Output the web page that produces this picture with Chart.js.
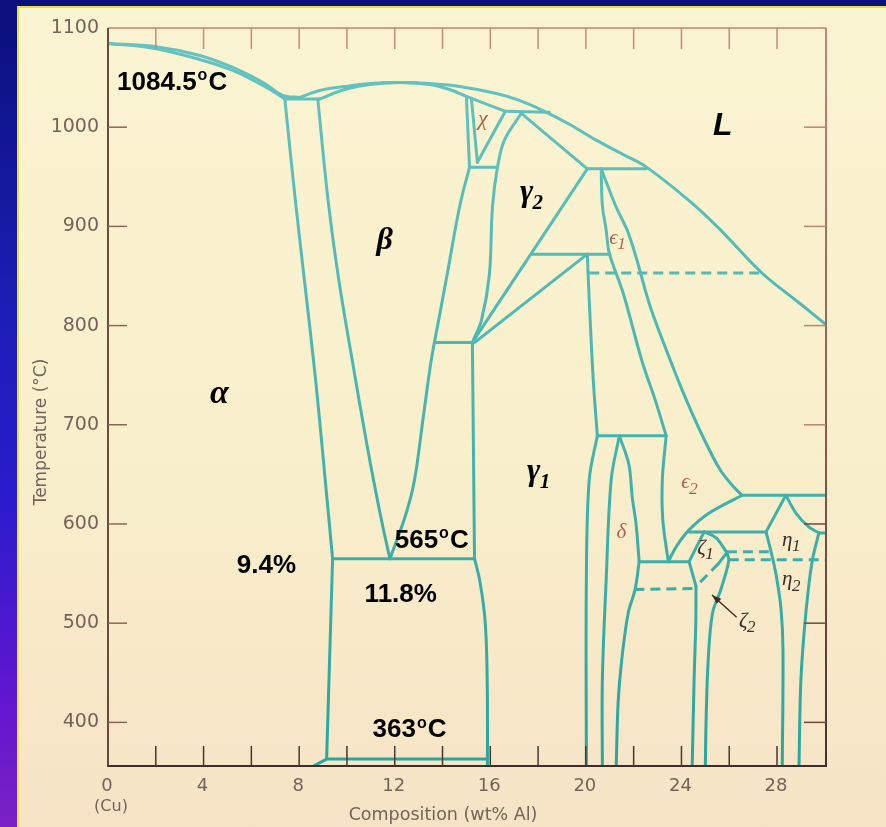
<!DOCTYPE html>
<html>
<head>
<meta charset="utf-8">
<title>Cu-Al phase diagram</title>
<script src="https://cdn.jsdelivr.net/npm/chart.js@4.4.0/dist/chart.umd.min.js"></script>
<style>
  html, body { margin: 0; padding: 0; }
  body {
    width: 886px; height: 827px; overflow: hidden; position: relative;
    background: linear-gradient(to bottom, #0a0f7a 0%, #1a1eb2 35%, #2a1ccc 60%, #6216cf 85%, #7a22c4 100%);
  }
  #paper {
    position: absolute; left: 17px; top: 6px; width: 869px; height: 821px;
    box-sizing: border-box;
    border-top: 2px solid #e6e23a; border-left: 2px solid #e6e23a;
    background: linear-gradient(to bottom, #fbf4d2 0%, #f9efcb 55%, #f6e3c6 100%);
  }
  #chart { position: absolute; left: 0; top: 0; }
</style>
</head>
<body>
<div id="paper"></div>
<canvas id="chart" width="886" height="827"></canvas>
<script>
// Phase boundaries of the Cu-Al system, points are [wt% Al, temperature in C]
const alphaLiquidus = [[0, 1084.5], [1.96, 1081.4], [3.84, 1072.3], [5.22, 1060.2], [6.56, 1044.1], [7.31, 1032.1], [8.02, 1030]];
const alphaSolidus = [[0, 1084.5], [1.96, 1079.4], [3.84, 1068.3], [5.22, 1057.2], [6.56, 1041.1], [7.4, 1028.5]];
const eutectic1029 = [[7.4, 1028.5], [8.86, 1028.5]];
const liquidus = [[8.02, 1030], [8.86, 1037], [9.9, 1041], [10.95, 1044], [12.2, 1045], [13.46, 1044], [14.71, 1041],
  [16.26, 1034], [17.22, 1027], [18.18, 1017], [19.31, 1003], [20.43, 987], [21.6, 972], [22.52, 960],
  [24.32, 926], [25.57, 898], [27.37, 853], [28.92, 823], [30.05, 801]];
const betaSolidus = [[8.86, 1028.5], [9.9, 1038], [10.95, 1043], [12.2, 1045], [13.46, 1043], [14.29, 1038], [15.0, 1031]];
const alphaSolvus = [[7.4, 1028.5], [7.84, 926.4], [8.22, 845.9], [8.69, 745.2], [9.09, 644.6], [9.4, 565]];
const alphaLow = [[9.4, 565], [9.15, 363], [8.6, 356]];
const betaLeft = [[8.78, 1028.5], [9.21, 926.4], [9.66, 845.9], [10.22, 765.3], [10.8, 684.8], [11.19, 634.6], [11.53, 594.2], [11.8, 565]];
const betaRight = [[15.13, 959.6], [14.71, 919.3], [14.19, 850.9], [13.84, 805.6], [13.53, 765.3], [13.18, 705], [12.83, 644.6], [12.46, 609.3], [11.8, 565]];
const eutectoid565 = [[9.4, 565], [15.34, 565]];
const eutectoid363 = [[9.15, 363], [15.88, 363]];
const chiLeft = [[15.0, 1031], [15.13, 959.6]];
const chiInner = [[15.21, 1029], [15.46, 964.6]];
const chiDiag = [[15.46, 964.6], [16.63, 1016]];
const chiTop = [[15.0, 1031], [16.63, 1016]];
const peritectic1016 = [[16.63, 1016], [18.47, 1015]];
const chi960 = [[15.13, 959.6], [16.3, 959.6]];
const gamma1Left = [[17.3, 1014], [16.59, 987], [16.3, 959.6], [16.09, 919.3], [15.96, 851], [15.63, 805.6], [15.25, 783]];
const gamma1Upper = [[15.25, 783], [15.34, 565]];
const gamma1Lower = [[15.34, 565], [15.55, 544], [15.75, 511], [15.84, 476], [15.88, 420], [15.88, 356]];
const beta783 = [[13.67, 783], [15.25, 783]];
const gamma2Upper = [[17.3, 1014], [20.06, 958]];
const peritectic958 = [[20.06, 958], [22.52, 958]];
const gamma2Long = [[15.25, 783], [20.06, 958]];
const gamma2Short = [[15.35, 783], [20.06, 872]];
const line872 = [[17.74, 872], [21.0, 872]];
const gamma2Wall = [[20.06, 872], [20.14, 826], [20.31, 745], [20.48, 689]];
const eps1Left = [[20.64, 958], [20.69, 921.3], [20.85, 896.2], [20.98, 873], [21.56, 832.8], [22.36, 763.3], [22.9, 725.1], [23.36, 689]];
const eps1Right = [[20.64, 958], [21.27, 919.3], [21.73, 896.2], [22.1, 869], [22.7, 818.7], [23.53, 765.3], [24.15, 728.1],
  [24.9, 687.8], [25.62, 654.6], [26.2, 637], [26.54, 629]];
const dashed853 = [[20.14, 853], [27.37, 853]];
const line689 = [[20.48, 689], [23.36, 689]];
const wall20 = [[20.48, 689], [20.14, 644.6], [20.02, 544], [20.02, 356]];
const deltaLeft = [[21.4, 689], [21.06, 644.6], [20.85, 544], [20.69, 443], [20.69, 356]];
const deltaRight = [[21.4, 689], [21.8, 660], [21.94, 627], [22.1, 600], [22.23, 562]];
const deltaBelow = [[22.23, 562], [22.06, 534], [21.77, 510], [21.5, 463], [21.35, 420], [21.27, 356]];
const line562 = [[22.23, 562], [24.32, 562]];
const eps2Left = [[23.36, 689], [23.2, 644.6], [23.22, 604], [23.45, 562]];
const eps2Arc = [[23.45, 562], [23.78, 577], [24.32, 594], [25.16, 611], [26.54, 629]];
const line629 = [[26.54, 629], [30.05, 629]];
const etaRoofLeft = [[27.54, 592], [28.37, 629]];
const etaRoofRight = [[28.37, 629], [28.79, 611], [29.33, 597], [29.75, 591]];
const line592 = [[24.32, 592], [27.54, 592]];
const line591 = [[29.75, 591], [30.05, 591]];
const zeta1Edge = [[24.95, 592], [24.32, 562], [24.61, 537]];
const zetaWall = [[24.61, 537], [24.6, 500], [24.53, 443], [24.45, 356]];
const zeta1Roof = [[24.95, 592], [25.45, 586], [25.9, 571]];
const zeta2Right = [[25.9, 571], [25.98, 563], [25.65, 534], [25.3, 510], [25.12, 463], [25.03, 400], [25.0, 356]];
const zeta1Base = [[25.9, 571], [25.55, 560]];
const zeta1BaseDashed = [[25.55, 560], [24.61, 537]];
const dashed534 = [[22.03, 534], [24.61, 535]];
const dashed572 = [[25.9, 572], [27.75, 572]];
const dashed564 = [[25.98, 564], [30.05, 564]];
const etaLeft = [[27.54, 592], [27.75, 572], [27.96, 549], [28.17, 514], [28.25, 473], [28.22, 356]];
const etaRight = [[29.75, 591], [29.46, 561], [29.21, 511], [29.0, 443], [28.92, 356]];
const zeta2Arrow = [[26.31, 506], [25.28, 528.4]];

// axis ticks
const tempTicks = [400, 500, 600, 700, 800, 900, 1000, 1100];
const compLabels = [0, 4, 8, 12, 16, 20, 24, 28];
const compMarks = [2, 4, 6, 8, 10, 12, 14, 16, 18, 20, 22, 24, 26, 28];

const SANS = '"Liberation Sans", Arial, sans-serif';
const SERIF = '"Liberation Serif", "Times New Roman", serif';

function teal(context) {
  const chart = context.chart;
  const a = chart.chartArea;
  if (!a) return '#40b0ac';
  const g = chart.ctx.createLinearGradient(0, a.top, 0, a.bottom);
  g.addColorStop(0, '#66c4c2');
  g.addColorStop(1, '#2aa69e');
  return g;
}

function seg(points, curved, dashed) {
  return {
    data: points.map(([x, y]) => ({ x, y })),
    showLine: true,
    pointRadius: 0,
    borderWidth: 3,
    borderColor: teal,
    tension: curved ? 0.35 : 0,
    borderDash: dashed ? [10, 6] : [],
    borderCapStyle: dashed ? 'butt' : 'round',
    borderJoinStyle: 'round',
    fill: false
  };
}

const datasets = [
  seg(alphaLiquidus, true), seg(alphaSolidus, true), seg(eutectic1029), seg(liquidus, true),
  seg(betaSolidus, true), seg(alphaSolvus, true), seg(alphaLow), seg(betaLeft, true), seg(betaRight, true),
  seg(eutectoid565), seg(eutectoid363), seg(chiLeft), seg(chiInner), seg(chiDiag), seg(chiTop),
  seg(peritectic1016), seg(chi960), seg(gamma1Left, true), seg(gamma1Upper), seg(gamma1Lower, true),
  seg(beta783), seg(gamma2Upper), seg(peritectic958), seg(gamma2Long), seg(gamma2Short), seg(line872),
  seg(gamma2Wall, true), seg(eps1Left, true), seg(eps1Right, true), seg(dashed853, false, true),
  seg(line689), seg(wall20, true), seg(deltaLeft, true), seg(deltaRight, true), seg(deltaBelow, true),
  seg(line562), seg(eps2Left, true), seg(eps2Arc, true), seg(line629), seg(etaRoofLeft),
  seg(etaRoofRight, true), seg(line592), seg(line591), seg(zeta1Edge), seg(zetaWall, true),
  seg(zeta1Roof, true), seg(zeta2Right, true), seg(zeta1Base), seg(zeta1BaseDashed, false, true),
  seg(dashed534, false, true), seg(dashed572, false, true), seg(dashed564, false, true),
  seg(etaLeft, true), seg(etaRight, true)
];

// text with a raised "o" for the degree sign
function degText(ctx, px, py, num, size) {
  ctx.font = `bold ${size}px ${SANS}`;
  ctx.fillText(num, px, py);
  const w = ctx.measureText(num).width;
  ctx.font = `bold ${Math.round(size * 0.6)}px ${SANS}`;
  ctx.fillText('o', px + w + 1, py - size * 0.36);
  const w2 = ctx.measureText('o').width;
  ctx.font = `bold ${size}px ${SANS}`;
  ctx.fillText('C', px + w + w2 + 2, py);
}

function subText(ctx, px, py, main, sub, font, size, ratio) {
  ctx.font = font(size);
  ctx.fillText(main, px, py);
  if (!sub) return;
  const w = ctx.measureText(main).width;
  ctx.font = font(Math.round(size * (ratio || 0.65)));
  ctx.fillText(sub, px + w - size * 0.02, py + size * 0.25);
}

const decorations = {
  id: 'decorations',
  afterDatasetsDraw(chart) {
    const { ctx, chartArea: a, scales: { x, y } } = chart;
    ctx.save();

    // frame
    ctx.lineCap = 'butt';
    ctx.lineWidth = 1.6;
    ctx.strokeStyle = '#bf8272';
    ctx.beginPath(); ctx.moveTo(a.left, a.top); ctx.lineTo(a.right, a.top); ctx.stroke();
    const rg = ctx.createLinearGradient(0, a.top, 0, a.bottom);
    rg.addColorStop(0, '#c48676'); rg.addColorStop(0.55, '#8a5a4c'); rg.addColorStop(1, '#4a3028');
    ctx.strokeStyle = rg; ctx.lineWidth = 2;
    ctx.beginPath(); ctx.moveTo(a.right, a.top); ctx.lineTo(a.right, a.bottom); ctx.stroke();
    ctx.strokeStyle = '#6b4b3e';
    ctx.beginPath(); ctx.moveTo(a.left, a.top); ctx.lineTo(a.left, a.bottom + 1); ctx.stroke();
    ctx.strokeStyle = '#3e2c28';
    ctx.beginPath(); ctx.moveTo(a.left, a.bottom); ctx.lineTo(a.right + 1, a.bottom); ctx.stroke();

    // inward ticks
    ctx.lineWidth = 1.5;
    tempTicks.forEach(t => {
      if (t >= 1100) return;
      const py = y.getPixelForValue(t);
      ctx.strokeStyle = '#8c6656';
      ctx.beginPath(); ctx.moveTo(a.left, py); ctx.lineTo(a.left + 19, py); ctx.stroke();
      ctx.strokeStyle = t >= 700 ? '#c08272' : '#6a4a3e';
      ctx.beginPath(); ctx.moveTo(a.right - 22, py); ctx.lineTo(a.right, py); ctx.stroke();
    });
    compMarks.forEach(c => {
      const px = x.getPixelForValue(c);
      ctx.strokeStyle = '#c48a7a';
      ctx.beginPath(); ctx.moveTo(px, a.top); ctx.lineTo(px, a.top + 21); ctx.stroke();
      ctx.strokeStyle = '#4a3530';
      ctx.beginPath(); ctx.moveTo(px, a.bottom); ctx.lineTo(px, a.bottom - 20); ctx.stroke();
    });

    // tick labels and axis titles
    ctx.fillStyle = '#76625a';
    ctx.font = '19px "DejaVu Sans", sans-serif';
    ctx.textAlign = 'right'; ctx.textBaseline = 'middle';
    tempTicks.forEach(t => ctx.fillText(String(t), a.left - 9, y.getPixelForValue(t)));
    ctx.font = '18px "DejaVu Sans", sans-serif';
    ctx.textAlign = 'center';
    compLabels.forEach(c => ctx.fillText(String(c), x.getPixelForValue(c) - 1, a.bottom + 20));
    ctx.font = '16px "DejaVu Sans", sans-serif';
    ctx.fillText('(Cu)', x.getPixelForValue(0) + 3, a.bottom + 41);
    ctx.font = '17.5px "DejaVu Sans", sans-serif';
    ctx.fillText('Composition (wt% Al)', 443, a.bottom + 49);
    ctx.save();
    ctx.translate(42, 432);
    ctx.rotate(-Math.PI / 2);
    ctx.font = '17px "DejaVu Sans", sans-serif';
    ctx.fillText('Temperature (\u00B0C)', 0, 0);
    ctx.restore();

    // bold call-outs
    ctx.textAlign = 'left'; ctx.textBaseline = 'alphabetic';
    ctx.fillStyle = '#000';
    degText(ctx, x.getPixelForValue(0.38), y.getPixelForValue(1038), '1084.5', 26);
    degText(ctx, x.getPixelForValue(12.0), y.getPixelForValue(576), '565', 26);
    degText(ctx, x.getPixelForValue(11.07), y.getPixelForValue(385), '363', 26);
    ctx.font = `bold 26px ${SANS}`;
    ctx.fillText('9.4%', x.getPixelForValue(5.39), y.getPixelForValue(551));
    ctx.fillText('11.8%', x.getPixelForValue(10.74), y.getPixelForValue(521));

    // phase names
    const bigGreek = s => `italic bold ${s}px ${SERIF}`;
    subText(ctx, x.getPixelForValue(11.24), y.getPixelForValue(877), '\u03B2', '', bigGreek, 32);
    subText(ctx, x.getPixelForValue(4.27), y.getPixelForValue(722), '\u03B1', '', bigGreek, 34);
    subText(ctx, x.getPixelForValue(17.24), y.getPixelForValue(926), '\u03B3', '2', bigGreek, 32);
    subText(ctx, x.getPixelForValue(17.54), y.getPixelForValue(644), '\u03B3', '1', bigGreek, 32);
    ctx.font = `italic bold 32px ${SANS}`;
    ctx.fillText('L', x.getPixelForValue(25.32), y.getPixelForValue(992));

    const smallSerif = s => `italic ${s}px ${SERIF}`;
    ctx.fillStyle = '#b2604c';
    subText(ctx, x.getPixelForValue(15.49), y.getPixelForValue(1002), '\u03C7', '', smallSerif, 22);
    subText(ctx, x.getPixelForValue(20.98), y.getPixelForValue(882), '\u03F5', '1', smallSerif, 21, 0.8);
    subText(ctx, x.getPixelForValue(23.99), y.getPixelForValue(636), '\u03F5', '2', smallSerif, 21, 0.8);
    subText(ctx, x.getPixelForValue(21.28), y.getPixelForValue(586), '\u03B4', '', smallSerif, 21);
    ctx.fillStyle = '#3e2c26';
    subText(ctx, x.getPixelForValue(24.66), y.getPixelForValue(570), '\u03B6', '1', smallSerif, 21, 0.8);
    subText(ctx, x.getPixelForValue(28.21), y.getPixelForValue(578), '\u03B7', '1', smallSerif, 21, 0.8);
    subText(ctx, x.getPixelForValue(28.21), y.getPixelForValue(538), '\u03B7', '2', smallSerif, 21, 0.8);
    subText(ctx, x.getPixelForValue(26.41), y.getPixelForValue(496), '\u03B6', '2', smallSerif, 21, 0.8);

    // pointer to the zeta-2 field
    const [tail, head] = zeta2Arrow;
    const tx = x.getPixelForValue(tail[0]), ty = y.getPixelForValue(tail[1]);
    const hx = x.getPixelForValue(head[0]), hy = y.getPixelForValue(head[1]);
    ctx.strokeStyle = '#3e2c26'; ctx.fillStyle = '#3e2c26'; ctx.lineWidth = 1.4;
    ctx.beginPath(); ctx.moveTo(tx, ty); ctx.lineTo(hx, hy); ctx.stroke();
    const ang = Math.atan2(hy - ty, hx - tx);
    ctx.beginPath();
    ctx.moveTo(hx, hy);
    ctx.lineTo(hx - 10 * Math.cos(ang - 0.35), hy - 10 * Math.sin(ang - 0.35));
    ctx.lineTo(hx - 10 * Math.cos(ang + 0.35), hy - 10 * Math.sin(ang + 0.35));
    ctx.closePath(); ctx.fill();

    ctx.restore();
  }
};

new Chart(document.getElementById('chart'), {
  type: 'scatter',
  data: { datasets },
  options: {
    responsive: false,
    animation: false,
    events: [],
    devicePixelRatio: 1,
    layout: { padding: { left: 108, top: 28, right: 60, bottom: 61 } },
    scales: {
      x: { type: 'linear', min: 0, max: 30.05, display: false },
      y: { type: 'linear', min: 356, max: 1100, display: false }
    },
    plugins: { legend: { display: false }, tooltip: { enabled: false } }
  },
  plugins: [decorations]
});
</script>
</body>
</html>
